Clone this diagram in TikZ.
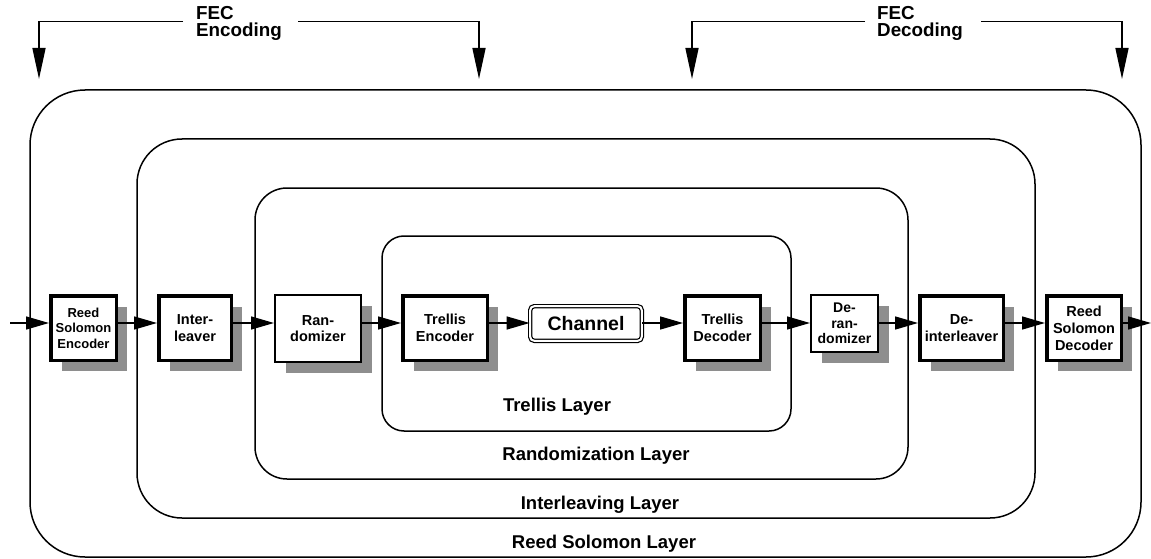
\documentclass[tikz,border=0pt]{standalone}
\usepackage{fontspec}
\setmainfont{Liberation Sans}
\usetikzlibrary{arrows.meta,shadows}
\definecolor{shadowgray}{RGB}{142,142,142}
\begin{document}
\begin{tikzpicture}[x=1pt,y=-1pt,
  layer/.style={draw, line width=1.5pt, inner sep=0pt},
  thickbox/.style={draw, fill=white, line width=3.5pt, align=center, inner sep=0pt,
    font=\bfseries\fontsize{14.5}{17}\selectfont,
    drop shadow={shadow xshift=11pt, shadow yshift=-11pt, fill=shadowgray, opacity=1}},
  thinbox/.style={thickbox, line width=1.6pt},
  sig/.style={line width=1.5pt, -{Triangle[length=23pt,width=13pt]}},
  fec/.style={line width=1.5pt, -{Triangle[length=31pt,width=13pt]}},
  lbl/.style={font=\bfseries\fontsize{18.5}{20}\selectfont, anchor=base, inner sep=0pt},
  fectxt/.style={font=\bfseries\fontsize{18.8}{20}\selectfont, anchor=base west, inner sep=0pt},
]
\useasboundingbox (0,0) rectangle (1151,559);

% layers
\node[layer, rounded corners=55pt, minimum width=1111pt, minimum height=467pt] (rsl) at (585.5,323.5) {};
\node[layer, rounded corners=45pt, minimum width=898pt, minimum height=379pt] (ill) at (586,328.5) {};
\node[layer, rounded corners=32pt, minimum width=653pt, minimum height=291pt] (rl) at (581.5,333.5) {};
\node[layer, rounded corners=22pt, minimum width=409pt, minimum height=195pt] (tl) at (586.5,333.5) {};

\node[lbl] (tlt) at (557,411) {Trellis Layer};
\node[lbl] (rlt) at (596,460) {Randomization Layer};
\node[lbl] (ilt) at (600,509) {Interleaving Layer};
\node[lbl] (rslt) at (604,548) {Reed Solomon Layer};

% blocks
\node[thickbox, font=\bfseries\fontsize{13}{15.5}\selectfont, minimum width=65.5pt, minimum height=64.5pt] (rse) at (83.5,328) {Reed\\Solomon\\Encoder};
\node[thickbox, minimum width=72.5pt, minimum height=64.5pt] (il) at (195,328) {Inter-\\leaver};
\node[thinbox, font=\bfseries\fontsize{14.5}{16}\selectfont, minimum width=86.4pt, minimum height=67.4pt] (ran) at (318,328.5) {Ran-\\domizer};
\node[thickbox, minimum width=84.5pt, minimum height=64.5pt] (te) at (445,328) {Trellis\\Encoder};
\node[draw, fill=white, double, double distance=2pt, line width=1.2pt, rounded corners=4pt,
  inner sep=0pt, minimum width=111.6pt, minimum height=34.6pt,
  font=\bfseries\fontsize{19.5}{22}\selectfont] (ch) at (586,323.5) {Channel};
\node[thickbox, minimum width=75.5pt, minimum height=64.5pt] (td) at (722.5,328) {Trellis\\Decoder};
\node[thinbox, font=\bfseries\fontsize{14}{15.5}\selectfont, minimum width=67.4pt, minimum height=57.4pt] (dr) at (844.5,323.5) {De-\\ran-\\domizer};
\node[thickbox, minimum width=83.5pt, minimum height=64.5pt] (di) at (961.5,328) {De-\\interleaver};
\node[thickbox, minimum width=74.5pt, minimum height=64.5pt] (rsd) at (1084,328) {Reed\\Solomon\\Decoder};

% signal path
\coordinate (in) at (10,323);
\coordinate (out) at (1151,323);
\draw[sig] (in) -- ([yshift=5pt]rse.west);
\draw[sig] ([yshift=5pt]rse.east) -- ([yshift=5pt]il.west);
\draw[sig] ([yshift=5pt]il.east) -- ([yshift=5.5pt]ran.west);
\draw[sig] ([yshift=5.5pt]ran.east) -- ([yshift=5pt]te.west);
\draw[sig] ([yshift=5pt]te.east) -- ([yshift=0.5pt]ch.west);
\draw[sig] ([yshift=0.5pt]ch.east) -- ([yshift=5pt]td.west);
\draw[sig] ([yshift=5pt]td.east) -- ([yshift=0.5pt]dr.west);
\draw[sig] ([yshift=0.5pt]dr.east) -- ([yshift=5pt]di.west);
\draw[sig] ([yshift=5pt]di.east) -- ([yshift=5pt]rsd.west);
\draw[sig] ([yshift=5pt]rsd.east) -- (out);

% FEC brackets
\node[fectxt] (fecE1) at (196,20) {FEC};
\node[fectxt] (fecE2) at (196,37) {Encoding};
\node[fectxt] (fecD1) at (877,20) {FEC};
\node[fectxt] (fecD2) at (877,37) {Decoding};
\coordinate (encA) at (183,21.5);
\coordinate (encB) at (298,21.5);
\coordinate (encL) at (39,79);
\coordinate (encR) at (479,79);
\coordinate (decA) at (865,21.5);
\coordinate (decB) at (981,21.5);
\coordinate (decL) at (692,79);
\coordinate (decR) at (1122,79);
\draw[fec] (encA) -| (encL);
\draw[fec] (encB) -| (encR);
\draw[fec] (decA) -| (decL);
\draw[fec] (decB) -| (decR);
\end{tikzpicture}
\end{document}
